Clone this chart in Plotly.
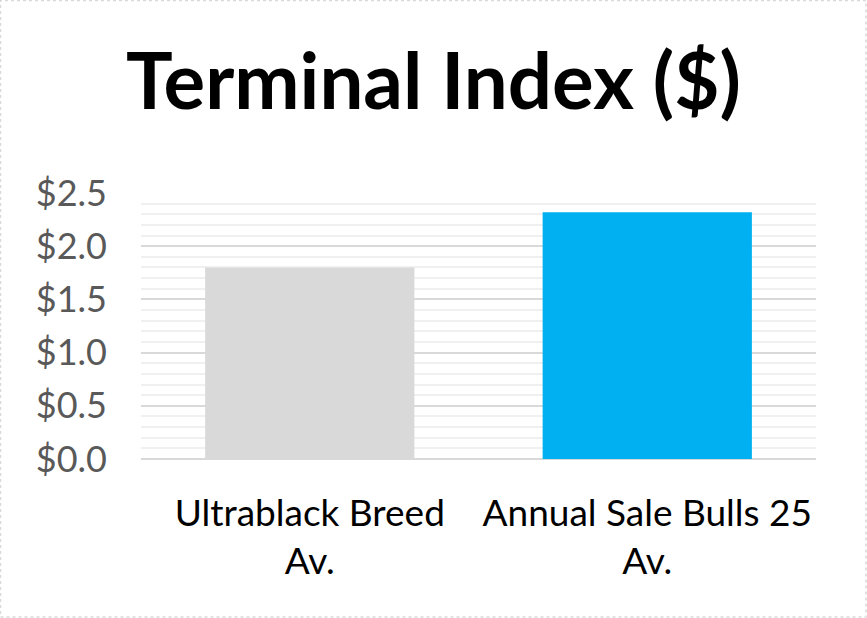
import plotly.graph_objects as go

categories = ["Ultrablack Breed<br>Av.", "Annual Sale Bulls 25<br>Av."]
values = [1.80, 2.32]
bar_colors = ["#d9d9d9", "#00b0f0"]
title_text = "Terminal Index ($)"
y_tickvals = [0, 0.5, 1.0, 1.5, 2.0, 2.5]
y_ticktext = ["$0.0", "$0.5", "$1.0", "$1.5", "$2.0", "$2.5"]

fig = go.Figure()
fig.add_trace(go.Bar(x=categories, y=values, marker=dict(color=bar_colors, line=dict(width=0)),
                     width=0.62))

fig.update_layout(
    width=867, height=618,
    paper_bgcolor="white", plot_bgcolor="white",
    margin=dict(l=141, r=51, t=193, b=159),
    title=dict(text="<b>" + title_text + "</b>", x=0.5, xanchor="center", y=0.867, yanchor="middle",
               font=dict(family="Lato, Carlito, sans-serif", size=78, color="black")),
    showlegend=False,
    bargap=0.38,
    xaxis=dict(showgrid=False, showline=False, zeroline=False, ticks="", ticklabelstandoff=29,
               tickfont=dict(family="Lato, sans-serif", size=37, color="black")),
    yaxis=dict(range=[0, 2.5], tickvals=y_tickvals, ticktext=y_ticktext,
               showgrid=True, gridcolor="#d9d9d9", gridwidth=2,
               zeroline=True, zerolinecolor="#d9d9d9", zerolinewidth=2,
               showline=False, ticks="", ticklabelstandoff=33,
               minor=dict(dtick=0.1, showgrid=True, gridcolor="#f0f0f0", gridwidth=2),
               tickfont=dict(family="Lato, sans-serif", size=36, color="#595959")),
)
fig.add_shape(type="rect", xref="paper", yref="paper", x0=-140.5/675, x1=1+50/675, y0=-158/266, y1=1+192.5/266,
              line=dict(color="#d9d9d9", width=1.5, dash="dot"), layer="below")

fig.write_html("out.html", config={"displayModeBar": False},
               post_script="document.body.style.margin='0';document.body.style.padding='0';")
